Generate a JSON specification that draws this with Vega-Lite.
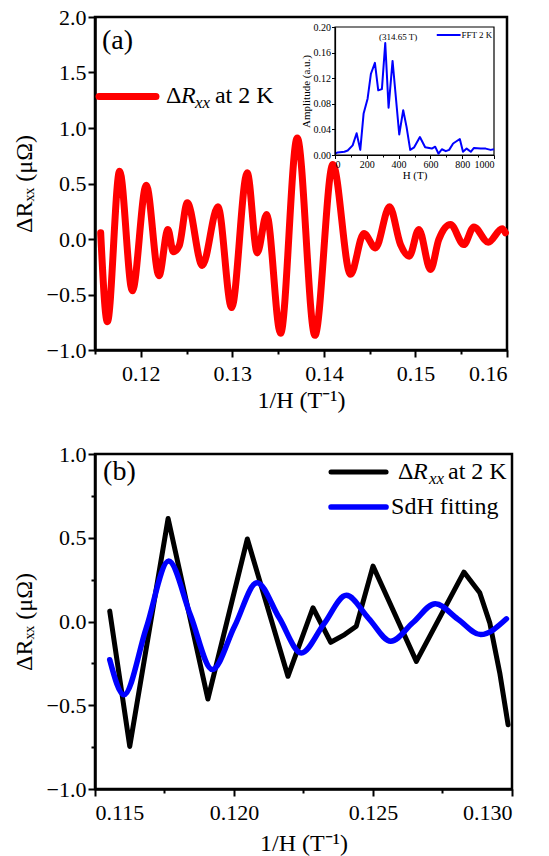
{
  "$schema": "https://vega.github.io/schema/vega-lite/v6.json",
  "padding": {"left": 10, "top": 4, "right": 5, "bottom": 0},
  "spacing": 27,
  "config": {
    "font": "Liberation Serif",
    "view": {"stroke": "black", "strokeWidth": 2.5},
    "axis": {
      "domainColor": "black", "domainWidth": 2.5, "tickColor": "black", "tickWidth": 2,
      "labelColor": "black", "titleColor": "black", "grid": false,
      "labelFont": "Liberation Serif", "titleFont": "Liberation Serif",
      "labelFontSize": 22, "titleFontSize": 24, "titleFontWeight": "normal", "labelPadding": 2
    }
  },
  "vconcat": [
    {
      "width": 412,
      "height": 333,
      "layer": [
        {
          "layer": [
            {
              "data": {"values": [
                {"x": 0.11562, "y": 0.056}, {"x": 0.11635, "y": -0.745}, {"x": 0.11769, "y": 0.611},
                {"x": 0.11908, "y": -0.466}, {"x": 0.1206, "y": 0.485}, {"x": 0.12199, "y": -0.33},
                {"x": 0.12297, "y": 0.086}, {"x": 0.12355, "y": -0.115}, {"x": 0.1242, "y": -0.06},
                {"x": 0.12508, "y": 0.326}, {"x": 0.12672, "y": -0.238}, {"x": 0.12843, "y": 0.29},
                {"x": 0.12992, "y": -0.618}, {"x": 0.13163, "y": 0.596}, {"x": 0.13272, "y": -0.125},
                {"x": 0.13374, "y": 0.221}, {"x": 0.13527, "y": -0.85}, {"x": 0.13709, "y": 0.911},
                {"x": 0.13902, "y": -0.868}, {"x": 0.14098, "y": 0.671}, {"x": 0.14291, "y": -0.318},
                {"x": 0.14437, "y": 0.05}, {"x": 0.14564, "y": -0.08}, {"x": 0.14717, "y": 0.29},
                {"x": 0.14837, "y": -0.05}, {"x": 0.14932, "y": -0.155}, {"x": 0.15037, "y": 0.086},
                {"x": 0.15165, "y": -0.275}, {"x": 0.15255, "y": -0.005}, {"x": 0.15383, "y": 0.131},
                {"x": 0.15528, "y": -0.05}, {"x": 0.15638, "y": 0.109}, {"x": 0.15795, "y": -0.029},
                {"x": 0.15947, "y": 0.092}, {"x": 0.15983, "y": 0.056}
              ]},
              "mark": {"type": "line", "color": "#ff0000", "strokeWidth": 7, "strokeJoin": "round", "strokeCap": "round", "interpolate": "monotone"},
              "encoding": {
                "x": {
                  "field": "x", "type": "quantitative",
                  "scale": {"domain": [0.115, 0.16], "nice": false, "zero": false},
                  "axis": {
                    "title": "1/H (T⁻¹)",
                    "values": [0.115, 0.12, 0.125, 0.13, 0.135, 0.14, 0.145, 0.15, 0.155, 0.16],
                    "labelExpr": "abs(datum.value*100 - round(datum.value*100)) < 0.001 ? format(datum.value, '.2f') : ''",
                    "tickSize": {"condition": {"test": "abs(datum.value*100 - round(datum.value*100)) > 0.001", "value": 4}, "value": 7},
                    "labelPadding": 6,
                    "titlePadding": 4
                  }
                },
                "y": {
                  "field": "y", "type": "quantitative",
                  "scale": {"domain": [-1, 2], "nice": false, "zero": false},
                  "axis": {
                    "title": "ΔRₓₓ (μΩ)",
                    "values": [-1, -0.75, -0.5, -0.25, 0, 0.25, 0.5, 0.75, 1, 1.25, 1.5, 1.75, 2],
                    "labelExpr": "abs(datum.value*2 - round(datum.value*2)) < 0.001 ? format(datum.value, '.1f') : ''",
                    "tickSize": {"condition": {"test": "abs(datum.value*2 - round(datum.value*2)) > 0.001", "value": 4}, "value": 7},
                    "titlePadding": 10
                  }
                }
              }
            },
            {
              "data": {"values": [{"x": 0.11544, "y": 1.284}, {"x": 0.12166, "y": 1.284}]},
              "mark": {"type": "line", "color": "#ff0000", "strokeWidth": 7, "strokeCap": "round"},
              "encoding": {"x": {"field": "x", "type": "quantitative"}, "y": {"field": "y", "type": "quantitative"}}
            },
            {
              "data": {"values": [{"x": 0.12275, "y": 1.284, "p1": "Δ", "p2": "R", "p3": "xx", "p4": "at 2 K"}]},
              "encoding": {"x": {"field": "x", "type": "quantitative"}, "y": {"field": "y", "type": "quantitative"}},
              "layer": [
                {"mark": {"type": "text", "align": "left", "baseline": "middle", "fontSize": 24, "color": "black"}, "encoding": {"text": {"field": "p1"}}},
                {"mark": {"type": "text", "align": "left", "baseline": "middle", "fontSize": 24, "fontStyle": "italic", "dx": 15, "color": "black"}, "encoding": {"text": {"field": "p2"}}},
                {"mark": {"type": "text", "align": "left", "baseline": "middle", "fontSize": 17, "fontStyle": "italic", "dx": 29, "dy": 7, "color": "black"}, "encoding": {"text": {"field": "p3"}}},
                {"mark": {"type": "text", "align": "left", "baseline": "middle", "fontSize": 24, "dx": 49, "color": "black"}, "encoding": {"text": {"field": "p4"}}}
              ]
            },
            {
              "data": {"values": [{"x": 0.11576, "y": 1.78, "t": "(a)"}]},
              "mark": {"type": "text", "align": "left", "baseline": "middle", "fontSize": 28, "color": "black"},
              "encoding": {"x": {"field": "x", "type": "quantitative"}, "y": {"field": "y", "type": "quantitative"}, "text": {"field": "t"}}
            }
          ]
        },
        {
          "layer": [
            {
              "data": {"values": [{"h": 0, "h2": 1000, "amp": 0, "amp2": 0.2}]},
              "mark": {"type": "rect", "fill": "white", "stroke": "black", "strokeWidth": 1.2},
              "encoding": {
                "x": {
                  "field": "h", "type": "quantitative",
                  "scale": {"domain": [0, 1000], "range": [240, 399], "nice": false, "zero": false},
                  "axis": {
                    "orient": "bottom", "offset": -195, "zindex": 1, "title": "H (T)",
                    "values": [0, 100, 200, 300, 400, 500, 600, 700, 800, 900, 1000],
                    "labelExpr": "datum.value % 200 == 0 ? format(datum.value, 'd') : ''",
                    "tickSize": {"condition": {"test": "datum.value % 200 != 0", "value": 2}, "value": 3.5},
                    "domainWidth": 1.2, "tickWidth": 1, "labelFontSize": 10, "titleFontSize": 11,
                    "labelPadding": 1, "titlePadding": 0
                  }
                },
                "x2": {"field": "h2"},
                "y": {
                  "field": "amp", "type": "quantitative",
                  "scale": {"domain": [0, 0.2], "range": [138, 10], "nice": false, "zero": false},
                  "axis": {
                    "orient": "left", "offset": -240, "zindex": 1, "title": "Amplitude (a.u.)",
                    "values": [0, 0.02, 0.04, 0.06, 0.08, 0.1, 0.12, 0.14, 0.16, 0.18, 0.2],
                    "labelExpr": "abs(datum.value*25 - round(datum.value*25)) < 0.001 ? format(datum.value, '.2f') : ''",
                    "tickSize": {"condition": {"test": "abs(datum.value*25 - round(datum.value*25)) > 0.001", "value": 2}, "value": 3.5},
                    "domainWidth": 1.2, "tickWidth": 1, "labelFontSize": 10, "titleFontSize": 11,
                    "labelPadding": 1, "titlePadding": 2
                  }
                },
                "y2": {"field": "amp2"}
              }
            },
            {
              "data": {"values": [
                {"h": 0, "amp": 0.002}, {"h": 17, "amp": 0.004}, {"h": 59, "amp": 0.005}, {"h": 80, "amp": 0.007},
                {"h": 111, "amp": 0.015}, {"h": 136, "amp": 0.034}, {"h": 159, "amp": 0.008}, {"h": 180, "amp": 0.065},
                {"h": 205, "amp": 0.088}, {"h": 226, "amp": 0.127}, {"h": 251, "amp": 0.144}, {"h": 272, "amp": 0.101},
                {"h": 295, "amp": 0.103}, {"h": 316, "amp": 0.175}, {"h": 337, "amp": 0.074}, {"h": 362, "amp": 0.147},
                {"h": 404, "amp": 0.032}, {"h": 429, "amp": 0.07}, {"h": 450, "amp": 0.044}, {"h": 473, "amp": 0.008},
                {"h": 498, "amp": 0.012}, {"h": 534, "amp": 0.028}, {"h": 567, "amp": 0.012}, {"h": 609, "amp": 0.01},
                {"h": 630, "amp": 0.013}, {"h": 651, "amp": 0.002}, {"h": 672, "amp": 0.009}, {"h": 697, "amp": 0.006},
                {"h": 718, "amp": 0.008}, {"h": 743, "amp": 0.018}, {"h": 785, "amp": 0.025}, {"h": 805, "amp": 0.005},
                {"h": 828, "amp": 0.01}, {"h": 854, "amp": 0.005}, {"h": 874, "amp": 0.011}, {"h": 916, "amp": 0.01},
                {"h": 948, "amp": 0.01}, {"h": 979, "amp": 0.008}, {"h": 1000, "amp": 0.009}
              ]},
              "mark": {"type": "line", "color": "#0000ff", "strokeWidth": 2, "strokeJoin": "round"},
              "encoding": {"x": {"field": "h", "type": "quantitative"}, "y": {"field": "amp", "type": "quantitative"}}
            },
            {
              "data": {"values": [{"h": 640, "amp": 0.1875}, {"h": 790, "amp": 0.1875}]},
              "mark": {"type": "line", "color": "#0000ff", "strokeWidth": 2},
              "encoding": {"x": {"field": "h", "type": "quantitative"}, "y": {"field": "amp", "type": "quantitative"}}
            },
            {
              "data": {"values": [{"h": 795, "amp": 0.1875, "t": "FFT 2 K"}]},
              "mark": {"type": "text", "align": "left", "baseline": "middle", "fontSize": 9, "color": "black"},
              "encoding": {"x": {"field": "h", "type": "quantitative"}, "y": {"field": "amp", "type": "quantitative"}, "text": {"field": "t"}}
            },
            {
              "data": {"values": [{"h": 397, "amp": 0.184, "t": "(314.65 T)"}]},
              "mark": {"type": "text", "align": "center", "baseline": "middle", "fontSize": 9, "color": "black"},
              "encoding": {"x": {"field": "h", "type": "quantitative"}, "y": {"field": "amp", "type": "quantitative"}, "text": {"field": "t"}}
            }
          ]
        }
      ],
      "resolve": {"scale": {"x": "independent", "y": "independent"}}
    },
    {
      "width": 417,
      "height": 335,
      "layer": [
        {
          "data": {"values": [
            {"x": 0.11553, "y": 0.062}, {"x": 0.11625, "y": -0.746}, {"x": 0.11763, "y": 0.615},
            {"x": 0.11906, "y": -0.463}, {"x": 0.12048, "y": 0.493}, {"x": 0.12194, "y": -0.327},
            {"x": 0.12284, "y": 0.082}, {"x": 0.12348, "y": -0.124}, {"x": 0.12398, "y": -0.078},
            {"x": 0.1244, "y": -0.028}, {"x": 0.125, "y": 0.331}, {"x": 0.12656, "y": -0.238},
            {"x": 0.12827, "y": 0.295}, {"x": 0.12884, "y": 0.172}, {"x": 0.1292, "y": -0.008},
            {"x": 0.12956, "y": -0.307}, {"x": 0.12986, "y": -0.617}
          ]},
          "mark": {"type": "line", "color": "#000000", "strokeWidth": 5, "strokeJoin": "round", "strokeCap": "round"},
          "encoding": {
            "x": {
              "field": "x", "type": "quantitative",
              "scale": {"domain": [0.115, 0.13], "nice": false, "zero": false},
              "axis": {
                "title": "1/H (T⁻¹)",
                "values": [0.115, 0.1175, 0.12, 0.1225, 0.125, 0.1275, 0.13],
                "labelExpr": "abs(datum.value*200 - round(datum.value*200)) < 0.001 ? format(datum.value, '.3f') : ''",
                "tickSize": {"condition": {"test": "abs(datum.value*200 - round(datum.value*200)) > 0.001", "value": 4}, "value": 7},
                "labelPadding": 6,
                "titlePadding": 8
              }
            },
            "y": {
              "field": "y", "type": "quantitative",
              "scale": {"domain": [-1, 1], "nice": false, "zero": false},
              "axis": {
                "title": "ΔRₓₓ (μΩ)",
                "values": [-1, -0.75, -0.5, -0.25, 0, 0.25, 0.5, 0.75, 1],
                "labelExpr": "abs(datum.value*2 - round(datum.value*2)) < 0.001 ? format(datum.value, '.1f') : ''",
                "tickSize": {"condition": {"test": "abs(datum.value*2 - round(datum.value*2)) > 0.001", "value": 4}, "value": 7},
                "titlePadding": 10
              }
            }
          }
        },
        {
          "data": {"values": [
            {"x": 0.11553, "y": -0.228}, {"x": 0.11604, "y": -0.437}, {"x": 0.116845, "y": -0.038},
            {"x": 0.11765, "y": 0.361}, {"x": 0.118435, "y": 0.037}, {"x": 0.11922, "y": -0.287},
            {"x": 0.120025, "y": -0.027}, {"x": 0.12083, "y": 0.232}, {"x": 0.121625, "y": 0.022},
            {"x": 0.12242, "y": -0.188}, {"x": 0.12323, "y": -0.016}, {"x": 0.12404, "y": 0.156},
            {"x": 0.12484, "y": 0.019}, {"x": 0.12564, "y": -0.118}, {"x": 0.12644, "y": -0.006},
            {"x": 0.12724, "y": 0.106}, {"x": 0.128055, "y": 0.014}, {"x": 0.12887, "y": -0.078},
            {"x": 0.1298, "y": 0.016}
          ]},
          "mark": {"type": "line", "color": "#0000ff", "strokeWidth": 5.5, "interpolate": "monotone", "strokeCap": "round"},
          "encoding": {"x": {"field": "x", "type": "quantitative"}, "y": {"field": "y", "type": "quantitative"}}
        },
        {
          "data": {"values": [{"x": 0.12349, "y": 0.892}, {"x": 0.12547, "y": 0.892}]},
          "mark": {"type": "line", "color": "#000000", "strokeWidth": 5, "strokeCap": "round"},
          "encoding": {"x": {"field": "x", "type": "quantitative"}, "y": {"field": "y", "type": "quantitative"}}
        },
        {
          "data": {"values": [{"x": 0.12349, "y": 0.683}, {"x": 0.12547, "y": 0.683}]},
          "mark": {"type": "line", "color": "#0000ff", "strokeWidth": 5.5, "strokeCap": "round"},
          "encoding": {"x": {"field": "x", "type": "quantitative"}, "y": {"field": "y", "type": "quantitative"}}
        },
        {
          "data": {"values": [{"x": 0.1259, "y": 0.892, "p1": "Δ", "p2": "R", "p3": "xx", "p4": "at 2 K"}]},
          "encoding": {"x": {"field": "x", "type": "quantitative"}, "y": {"field": "y", "type": "quantitative"}},
          "layer": [
            {"mark": {"type": "text", "align": "left", "baseline": "middle", "fontSize": 24, "color": "black"}, "encoding": {"text": {"field": "p1"}}},
            {"mark": {"type": "text", "align": "left", "baseline": "middle", "fontSize": 24, "fontStyle": "italic", "dx": 15, "color": "black"}, "encoding": {"text": {"field": "p2"}}},
            {"mark": {"type": "text", "align": "left", "baseline": "middle", "fontSize": 17, "fontStyle": "italic", "dx": 31, "dy": 7, "color": "black"}, "encoding": {"text": {"field": "p3"}}},
            {"mark": {"type": "text", "align": "left", "baseline": "middle", "fontSize": 24, "dx": 50, "color": "black"}, "encoding": {"text": {"field": "p4"}}}
          ]
        },
        {
          "data": {"values": [{"x": 0.12565, "y": 0.683, "t": "SdH fitting"}, {"x": 0.11529, "y": 0.892, "t": "(b)"}]},
          "mark": {"type": "text", "align": "left", "baseline": "middle", "fontSize": 24, "color": "black"},
          "encoding": {
            "x": {"field": "x", "type": "quantitative"}, "y": {"field": "y", "type": "quantitative"}, "text": {"field": "t"},
            "size": {"condition": {"test": "datum.t == '(b)'", "value": 28}, "value": 24}
          }
        }
      ]
    }
  ]
}
